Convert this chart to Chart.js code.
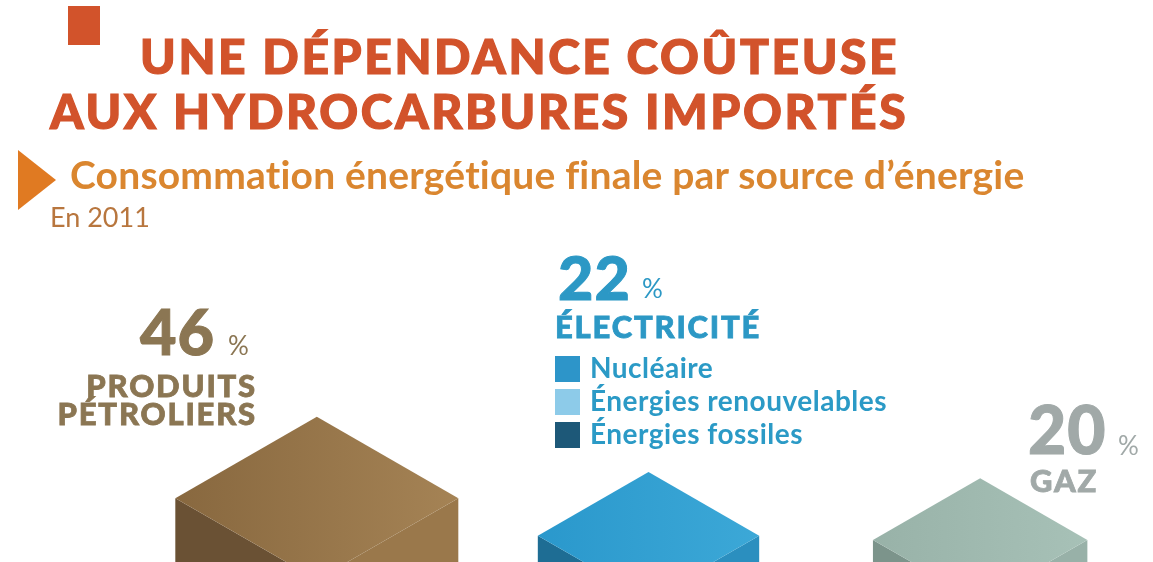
<!DOCTYPE html>
<html lang="fr">
<head>
<meta charset="utf-8">
<script src="https://cdn.jsdelivr.net/npm/chart.js@4/dist/chart.umd.min.js"></script>
<style>
  html, body { margin: 0; padding: 0; background: #fff; }
  body { width: 1153px; height: 562px; position: relative; overflow: hidden; font-family: Lato, "Open Sans", sans-serif; }
  #chart { position: absolute; left: 0; top: 0; }
  .t { position: absolute; white-space: nowrap; line-height: 1; margin: 0; }
  .title { color: #d2532b; font-weight: 900; font-size: 48px; letter-spacing: 2.6px; -webkit-text-stroke: 1.2px #d2532b; }
  .sub { color: #da862f; font-weight: 700; font-size: 39px; letter-spacing: 0.2px; }
  .year { color: #b8763e; font-size: 27px; }
  .big { font-weight: 900; letter-spacing: 1px; -webkit-text-stroke: 1px currentColor; }
  .pct { font-weight: 400; font-size: 26px; }
  .cat { font-weight: 900; font-size: 31px; letter-spacing: 1.8px; -webkit-text-stroke: 0.8px currentColor; }
  .leg { color: #2b9ac6; font-weight: 700; font-size: 28px; letter-spacing: 0.5px; }
  .sq { position: absolute; width: 25px; height: 26px; }
  .mark { position: absolute; }
</style>
</head>
<body>
<canvas id="chart" width="1153" height="562"></canvas>

<div class="mark" style="left:68px;top:6px;width:32px;height:39px;background:#d2532b"></div>
<div class="mark" style="left:18px;top:150px;width:0;height:0;border-top:30px solid transparent;border-bottom:30px solid transparent;border-left:38px solid #e07a22"></div>
<div id="texts"></div>

<script>
const categories = ['Produits pétroliers', 'Électricité', 'Gaz'];
const shares = [46, 22, 20];
const shareLabels = ['46', '22', '20'];
const categoryLines = [['PRODUITS', 'PÉTROLIERS'], ['ÉLECTRICITÉ'], ['GAZ']];
const electricitySources = ['Nucléaire', 'Énergies renouvelables', 'Énergies fossiles'];
const electricityColors = ['#2d95c9', '#8dcbe9', '#1d5878'];

// cube faces: [top-left, top-right, left face, right face]
const cubeColors = [
  ['#88683f', '#a58355', '#6a5134', '#9a784b'],
  ['#2a98cc', '#3ca8d7', '#1e6d94', '#2b8fbf'],
  ['#98b2a8', '#a7c1b7', '#7c948b', '#98b1a8']
];
const textColors = ['#8b7653', '#2c98c5', '#a1a9a8'];

// text is placed by baseline (Lato: baseline sits at 0.887em with line-height 1)
const texts = document.getElementById('texts');
function put(str, cls, x, baseline, size, color, align) {
  const d = document.createElement('div');
  d.className = 't ' + cls;
  d.textContent = str;
  d.style.top = (baseline - 0.887 * size) + 'px';
  if (align === 'right') d.style.right = (1153 - x) + 'px';
  else d.style.left = x + 'px';
  d.style.fontSize = size + 'px';
  if (color) d.style.color = color;
  texts.appendChild(d);
}

put('UNE DÉPENDANCE COÛTEUSE', 'title', 140, 75, 48);
put('AUX HYDROCARBURES IMPORTÉS', 'title', 50, 130, 48);
put('Consommation énergétique finale par source d\u2019énergie', 'sub', 70, 190, 39);
put('En 2011', 'year', 50, 227, 27);

// produits pétroliers
put(shareLabels[0], 'big', 140, 355, 63, textColors[0]);
put('%', 'pct', 228, 355, 26, textColors[0]);
put(categoryLines[0][0], 'cat', 257, 397, 31, textColors[0], 'right');
put(categoryLines[0][1], 'cat', 257, 425, 31, textColors[0], 'right');

// électricité
put(shareLabels[1], 'big', 558, 300, 61, textColors[1]);
put('%', 'pct', 642, 298, 26, textColors[1]);
put(categoryLines[1][0], 'cat', 555, 338, 31, textColors[1]);
electricitySources.forEach((s, i) => {
  const base = 378 + i * 33;
  const sq = document.createElement('div');
  sq.className = 'sq';
  sq.style.left = '555px';
  sq.style.top = (base - 22) + 'px';
  sq.style.background = electricityColors[i];
  texts.appendChild(sq);
  put(s, 'leg', 590, base, 28);
});

// gaz
put(shareLabels[2], 'big', 1028, 455, 66, textColors[2]);
put('%', 'pct', 1118, 455, 26, textColors[2]);
put(categoryLines[2][0], 'cat', 1030, 492, 31, textColors[2]);

// isometric cubes: volume follows the share, so the bar holds the cube root
const cubePlugin = {
  id: 'cubes',
  afterDatasetsDraw(chart) {
    const ctx = chart.ctx;
    const y = chart.scales.y;
    const floor = y.getPixelForValue(0);
    chart.getDatasetMeta(0).data.forEach((bar, i) => {
      const c = cubeColors[i];
      const x = bar.x;
      const top = bar.y;
      const H = floor - top;
      const hw = H / 1.79;
      const hh = hw * 0.575;

      ctx.save();
      ctx.fillStyle = c[2];
      ctx.beginPath();
      ctx.moveTo(x - hw, top + hh);
      ctx.lineTo(x, top + 2 * hh);
      ctx.lineTo(x, top + 2 * hh + H);
      ctx.lineTo(x - hw, top + hh + H);
      ctx.closePath();
      ctx.fill();

      ctx.fillStyle = c[3];
      ctx.beginPath();
      ctx.moveTo(x + hw, top + hh);
      ctx.lineTo(x, top + 2 * hh);
      ctx.lineTo(x, top + 2 * hh + H);
      ctx.lineTo(x + hw, top + hh + H);
      ctx.closePath();
      ctx.fill();

      const g = ctx.createLinearGradient(x - hw, 0, x + hw, 0);
      g.addColorStop(0, c[0]);
      g.addColorStop(1, c[1]);
      ctx.fillStyle = g;
      ctx.beginPath();
      ctx.moveTo(x, top);
      ctx.lineTo(x + hw, top + hh);
      ctx.lineTo(x, top + 2 * hh);
      ctx.lineTo(x - hw, top + hh);
      ctx.closePath();
      ctx.fill();
      ctx.restore();
    });
  }
};

new Chart(document.getElementById('chart').getContext('2d'), {
  type: 'bar',
  data: {
    labels: categories,
    datasets: [{
      data: shares.map(Math.cbrt),
      backgroundColor: 'rgba(0,0,0,0)',
      borderWidth: 0
    }]
  },
  options: {
    responsive: false,
    animation: false,
    layout: { padding: { left: 151, right: 7, top: 0, bottom: 0 } },
    plugins: { legend: { display: false }, tooltip: { enabled: false } },
    scales: {
      x: { display: false, offset: true },
      y: { display: false, min: 1.53, max: 9.48 }
    }
  },
  plugins: [cubePlugin]
});
</script>
</body>
</html>
